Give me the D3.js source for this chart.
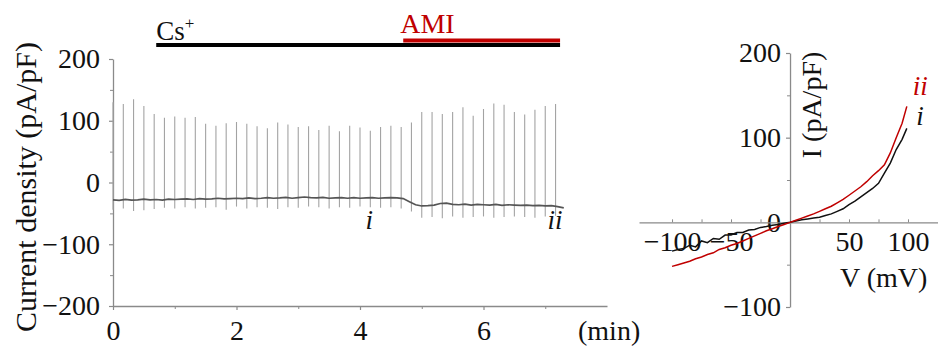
<!DOCTYPE html>
<html>
<head>
<meta charset="utf-8">
<script src="https://cdn.jsdelivr.net/npm/d3@7/dist/d3.min.js"></script>
<style>
  html, body { margin: 0; padding: 0; background: #fff; }
  svg { display: block; }
  text { font-family: "Liberation Serif", "Times New Roman", serif; fill: #111; }
</style>
</head>
<body>
<svg id="chart" width="940" height="349"></svg>
<script>
// ---------------- DATA ----------------
// Left panel: time course (min) of current density (pA/pF)
const traceTime = [0,0.1,0.2,0.3,0.4,0.5,0.6,0.7,0.8,0.9,1.0,1.1,1.2,1.3,1.4,1.5,1.6,1.7,1.8,1.9,2.0,2.1,2.2,2.3,2.4,2.5,2.6,2.7,2.8,2.9,3.0,3.1,3.2,3.3,3.4,3.5,3.6,3.7,3.8,3.9,4.0,4.1,4.2,4.3,4.4,4.5,4.6,4.7,4.8,4.9,5.0,5.1,5.2,5.3,5.4,5.5,5.6,5.7,5.8,5.9,6.0,6.1,6.2,6.3,6.4,6.5,6.6,6.7,6.8,6.9,7.0,7.1,7.2,7.3];
const traceValue = [-28,-29,-27.5,-28.5,-28,-27,-28,-27.5,-28.5,-27,-27.5,-27,-26.5,-27.5,-26,-27,-26.5,-25.5,-26.5,-26,-25.5,-26,-25,-26,-25.5,-24.5,-25.5,-25,-24,-25.5,-24.5,-23.5,-24.5,-25,-24,-25.5,-25,-24.5,-25.5,-24.5,-25.5,-25,-24.5,-25.5,-25,-24.5,-25,-26,-31,-36,-38,-37.5,-36.5,-34,-33.5,-35.5,-36,-35,-36.5,-35.5,-36,-36.5,-35.5,-37,-36,-36.5,-37,-36.5,-37.5,-37,-38,-37.5,-39,-41];

// Ramp transients every 10 s (1/6 min): peak and trough values
const spikeTime = [0,0.167,0.333,0.5,0.667,0.833,1.0,1.167,1.333,1.5,1.667,1.833,2.0,2.167,2.333,2.5,2.667,2.833,3.0,3.167,3.333,3.5,3.667,3.833,4.0,4.167,4.333,4.5,4.667,4.833,5.0,5.167,5.333,5.5,5.667,5.833,6.0,6.167,6.333,6.5,6.667,6.833,7.0,7.167];
const spikeMax = [130,127,135,124,111,105,107,105,106,95,92,96,98,95,91,88,97,94,90,91,85,92,83,92,89,84,90,92,90,97,114,114,111,114,122,108,119,128,126,114,110,118,124,127];
const spikeMin = [-44,-42,-46,-45,-43,-41,-42,-40,-42,-41,-40,-44,-39,-42,-40,-41,-43,-40,-41,-39,-40,-42,-40,-41,-39,-40,-41,-40,-42,-47,-57,-56,-58,-55,-57,-56,-55,-57,-56,-55,-56,-57,-55,-54];

// Drug application bars (min)
const treatLabels = ["Cs", "AMI"];
const treatStart = [0.7, 4.7];
const treatEnd = [7.24, 7.24];

// Time-point markers
const markLabels = ["i", "ii"];
const markTime = [4.15, 7.16];

// Axis ticks
const leftYTicks = [-200, -100, 0, 100, 200];
const leftYMinor = [-150, -50, 50, 150];
const leftXTicks = [0, 2, 4, 6];
const leftXMinor = [1, 3, 5, 7];

// Right panel: I-V relationships
const ivVoltage = [-100,-95,-90,-85,-80,-75,-70,-65,-60,-55,-50,-45,-40,-35,-30,-25,-20,-15,-10,-5,0,5,10,15,20,25,30,35,40,45,50,55,60,65,70,75,80,85,90,95,99];
const ivCurrentI = [-34,-32,-31,-27,-29,-22,-24,-19,-20,-15,-15,-12,-12,-9,-8.5,-6,-5,-3.5,-2.5,-1,0,1.5,3,4,5,6,8,10,13,16,21,25,30,35,40,46,58,70,86,98,111];
const ivCurrentII = [-52,-50,-48,-46,-43,-41,-38,-36,-32,-30,-27,-25,-22,-19,-16,-13,-10,-7.5,-5,-2.5,0,2.5,5,7.5,10,13,16,19,23,27,32,37,42,48,55,61,68,82,100,117,137];
const rightYTicks = [-100, 0, 100, 200];
const rightYMinor = [-50, 50, 150];
const rightXTicks = [-100, -50, 50, 100];
const rightXMinor = [-100, -75, -50, -25, 25, 50, 75, 100];

// ---------------- DRAWING ----------------
const svg = d3.select("#chart");
const axisColor = "#8a8a8a";
const red = "#c00000";

const xL = d3.scaleLinear().domain([0, 8]).range([113, 607]);
const yL = d3.scaleLinear().domain([-200, 200]).range([306, 59]);

function styleAxis(g) {
  g.select(".domain").attr("stroke", axisColor).attr("stroke-width", 1.3);
  g.selectAll(".tick line").attr("stroke", axisColor).attr("stroke-width", 1.2);
  g.selectAll(".tick text").attr("fill", "#111").style("font-family", '"Liberation Serif", serif').style("font-size", "28px");
}

// left y axis
svg.append("g").attr("transform", `translate(${xL(0)},0)`)
  .call(d3.axisLeft(yL).tickValues(leftYTicks).tickSize(4).tickSizeOuter(0).tickPadding(9))
  .call(styleAxis);
svg.append("g").attr("transform", `translate(${xL(0)},0)`)
  .call(d3.axisLeft(yL).tickValues(leftYMinor).tickSize(3).tickFormat(""))
  .call(g => { g.select(".domain").remove(); g.selectAll("line").attr("stroke", axisColor); });

// left x axis
svg.append("g").attr("transform", `translate(0,${yL(-200)})`)
  .call(d3.axisBottom(xL).tickValues(leftXTicks).tickSize(4).tickSizeOuter(0).tickPadding(10).tickFormat(d3.format("d")))
  .call(styleAxis);
svg.append("g").attr("transform", `translate(0,${yL(-200)})`)
  .call(d3.axisBottom(xL).tickValues(leftXMinor).tickSize(3).tickFormat(""))
  .call(g => { g.select(".domain").remove(); g.selectAll("line").attr("stroke", axisColor); });

svg.append("text").attr("x", 578).attr("y", 340).style("font-size", "28px").text("(min)");

svg.append("text")
  .attr("transform", "translate(36,187) rotate(-90)")
  .attr("text-anchor", "middle")
  .style("font-size", "30px")
  .text("Current density (pA/pF)");

// spikes
svg.append("g").selectAll("line").data(spikeTime).join("line")
  .attr("x1", (d) => xL(d)).attr("x2", (d) => xL(d))
  .attr("y1", (d, i) => yL(spikeMax[i])).attr("y2", (d, i) => yL(spikeMin[i]))
  .attr("stroke", "#a3a3a3").attr("stroke-width", 1.1);

// baseline trace
const traceLine = d3.line().x((d, i) => xL(traceTime[i])).y((d) => yL(d));
svg.append("path").datum(traceValue).attr("d", traceLine)
  .attr("fill", "none").attr("stroke", "#555").attr("stroke-width", 1.7);

// treatment bars
svg.append("line").attr("x1", xL(treatStart[0])).attr("x2", xL(treatEnd[0]))
  .attr("y1", 45).attr("y2", 45).attr("stroke", "#000").attr("stroke-width", 4);
svg.append("line").attr("x1", xL(treatStart[1])).attr("x2", xL(treatEnd[1]))
  .attr("y1", 40.5).attr("y2", 40.5).attr("stroke", red).attr("stroke-width", 4);

const cs = svg.append("text").attr("x", xL(treatStart[0])).attr("y", 40).style("font-size", "27px");
cs.append("tspan").text(treatLabels[0]);
cs.append("tspan").attr("dy", -11).style("font-size", "17px").text("+");

svg.append("text").attr("x", xL(treatStart[1]) - 3).attr("y", 33).style("font-size", "28px")
  .style("fill", red).text(treatLabels[1]);

// markers
svg.selectAll("text.mark").data(markLabels).join("text").attr("class", "mark")
  .attr("x", (d, i) => xL(markTime[i])).attr("y", 229)
  .attr("text-anchor", "middle").style("font-size", "27px").style("font-style", "italic")
  .text((d) => d);

// ---------------- RIGHT PANEL ----------------
const xR = d3.scaleLinear().domain([-128, 125]).range([639, 937.5]);
const yR = d3.scaleLinear().domain([-100, 200]).range([307, 53]);

svg.append("g").attr("transform", `translate(${xR(0)},0)`)
  .call(d3.axisLeft(yR).tickValues(rightYTicks).tickSize(4).tickSizeOuter(0).tickPadding(5))
  .call(styleAxis);
svg.append("g").attr("transform", `translate(${xR(0)},0)`)
  .call(d3.axisLeft(yR).tickValues(rightYMinor).tickSize(3).tickFormat(""))
  .call(g => { g.select(".domain").remove(); g.selectAll("line").attr("stroke", axisColor); });

svg.append("g").attr("transform", `translate(0,${yR(0)})`)
  .call(d3.axisBottom(xR).tickValues(rightXTicks).tickSize(0).tickSizeOuter(0).tickPadding(9))
  .call(styleAxis);
svg.append("g").attr("transform", `translate(0,${yR(0)})`)
  .call(d3.axisTop(xR).tickValues(rightXMinor).tickSize(3).tickFormat(""))
  .call(g => { g.select(".domain").remove(); g.selectAll("line").attr("stroke", axisColor); });

svg.append("text").attr("x", 840).attr("y", 287).style("font-size", "28px").text("V (mV)");
svg.append("text")
  .attr("transform", "translate(821,105) rotate(-90)")
  .attr("text-anchor", "middle").style("font-size", "28px").text("I (pA/pF)");

const ivLine = (arr) => d3.line().x((d, i) => xR(ivVoltage[i])).y((d) => yR(d))(arr);
svg.append("path").attr("d", ivLine(ivCurrentI)).attr("fill", "none").attr("stroke", "#111").attr("stroke-width", 1.5);
svg.append("path").attr("d", ivLine(ivCurrentII)).attr("fill", "none").attr("stroke", red).attr("stroke-width", 1.5);

svg.append("text").attr("x", xR(104)).attr("y", yR(150)).style("font-size", "27px")
  .style("font-style", "italic").style("fill", red).text(markLabels[1]);
svg.append("text").attr("x", xR(107)).attr("y", yR(115)).style("font-size", "27px")
  .style("font-style", "italic").text(markLabels[0]);
</script>
</body>
</html>
